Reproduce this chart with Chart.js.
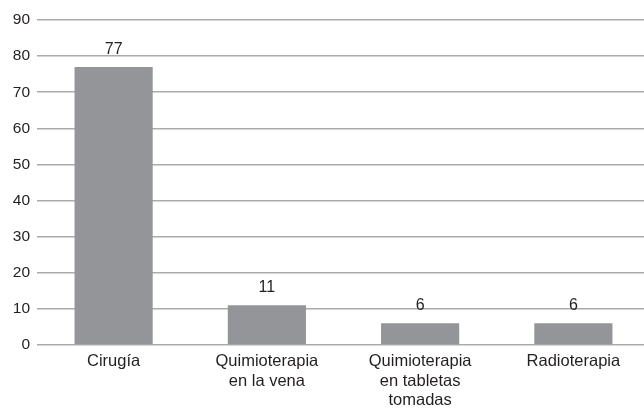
<!DOCTYPE html>
<html>
<head>
<meta charset="utf-8">
<script src="https://cdn.jsdelivr.net/npm/chart.js@4/dist/chart.umd.min.js"></script>
<style>
  html, body { margin: 0; padding: 0; background: #fff; overflow: hidden; }
  #wrap { width: 644px; height: 408px; overflow: hidden; }
  #c { display: block; }
</style>
</head>
<body>
<!-- plot runs slightly past the right edge of the frame -->
<div id="wrap"><canvas id="c" width="650" height="408"></canvas></div>
<script>
// Tratamientos recibidos
const categories = [
  ["Cirugía"],
  ["Quimioterapia", "en la vena"],
  ["Quimioterapia", "en tabletas", "tomadas"],
  ["Radioterapia"]
];
const values = [77, 11, 6, 6];
const yTicks = [0, 10, 20, 30, 40, 50, 60, 70, 80, 90];

const FONT = "'Liberation Sans', Arial, sans-serif";
const TEXT = "#231f20";

// Draws each bar's value above it
const valueLabels = {
  id: "valueLabels",
  afterDatasetsDraw(chart) {
    const ctx = chart.ctx;
    const meta = chart.getDatasetMeta(0);
    ctx.save();
    ctx.font = "16px " + FONT;
    ctx.fillStyle = TEXT;
    ctx.textAlign = "center";
    ctx.textBaseline = "alphabetic";
    meta.data.forEach((bar, i) => {
      ctx.fillText(String(values[i]), bar.x, bar.y - 13);
    });
    ctx.restore();
  }
};

new Chart(document.getElementById("c"), {
  type: "bar",
  data: {
    labels: categories,
    datasets: [{
      data: values,
      backgroundColor: "#939598",
      borderWidth: 0,
      categoryPercentage: 1,
      barPercentage: 0.51
    }]
  },
  options: {
    responsive: false,
    animation: false,
    layout: { padding: { top: 20, right: 0, left: 0, bottom: 0 } },
    plugins: { legend: { display: false }, tooltip: { enabled: false } },
    scales: {
      x: {
        grid: { display: false },
        border: { display: false },
        ticks: {
          color: TEXT,
          font: { family: FONT, size: 16.5, lineHeight: 1.18 },
          padding: -1,
          maxRotation: 0,
          autoSkip: false
        },
        afterFit(scale) { scale.height = 63; }
      },
      y: {
        min: 0,
        max: 90,
        afterBuildTicks(scale) { scale.ticks = yTicks.map(v => ({ value: v })); },
        grid: { color: "#ababab", lineWidth: 1.5, drawTicks: false },
        border: { display: false },
        ticks: {
          color: TEXT,
          font: { family: FONT, size: 15.5 },
          padding: 7
        },
        afterFit(scale) { scale.width = 37; }
      }
    }
  },
  plugins: [valueLabels]
});
</script>
</body>
</html>
